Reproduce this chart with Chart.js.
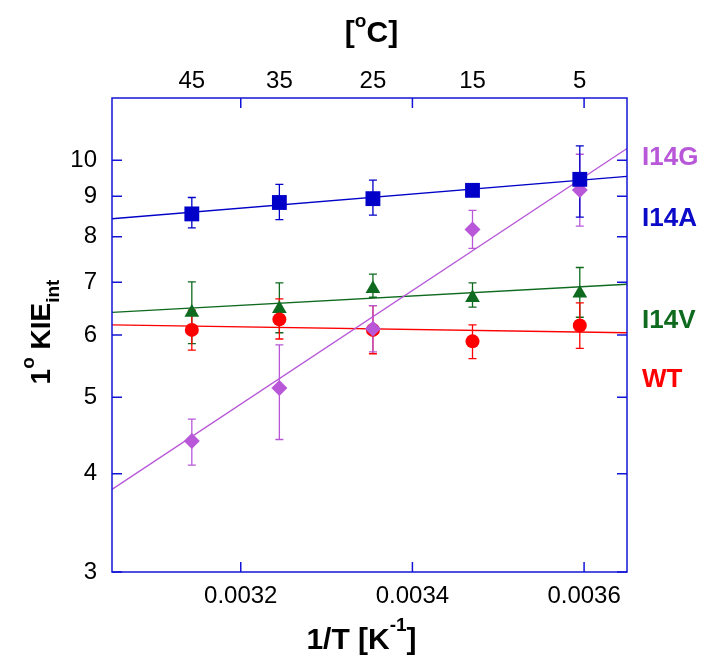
<!DOCTYPE html>
<html><head><meta charset="utf-8">
<script src="https://cdn.jsdelivr.net/npm/chart.js@4.4.0/dist/chart.umd.min.js"></script>
<style>html,body{margin:0;padding:0;background:#fff}#wrap{width:714px;height:666px}</style>
</head><body><div id="wrap"><canvas id="c" width="714" height="666"></canvas></div>
<script>
// ---- data ----
const invT = [0.003143, 0.003245, 0.003354, 0.003470, 0.003595];
const tempLabels = ['45', '35', '25', '15', '5'];
const xTicks = [0.0032, 0.0034, 0.0036];
const yTicks = [3, 4, 5, 6, 7, 8, 9, 10];
const fitX = [0.00305, 0.00365];

const i14aKIE = [8.55, 8.84, 8.94, 9.16, 9.46];
const i14aHi  = [8.97, 9.32, 9.44, 9.30, 10.43];
const i14aLo  = [8.21, 8.41, 8.52, 9.03, 8.47];
const i14aFit = [8.43, 9.54];

const i14gKIE = [4.40, 5.14, 6.11, 8.17, 9.17];
const i14gHi  = [4.69, 5.83, 6.54, 8.64, 10.18];
const i14gLo  = [4.10, 4.42, 5.71, 7.73, 8.25];
const i14gFit = [3.82, 10.35];

const wtKIE = [6.09, 6.28, 6.09, 5.89, 6.17];
const wtHi  = [6.45, 6.67, 6.54, 6.18, 6.59];
const wtLo  = [5.74, 5.93, 5.68, 5.60, 5.77];
const wtFit = [6.18, 6.04];

const i14vKIE = [6.41, 6.48, 6.87, 6.69, 6.78];
const i14vHi  = [7.01, 6.99, 7.17, 6.99, 7.31];
const i14vLo  = [5.85, 6.04, 6.70, 6.51, 6.32];
const i14vFit = [6.41, 6.96];

// ---- styles ----
const C_BLUE = '#0000C8', C_PURPLE = '#B858D8', C_RED = '#FF0000', C_GREEN = '#0E6A1E';
const AXIS = '#1414D8';
const FONT = '"Liberation Sans", Arial, sans-serif';

const pts = (ys) => invT.map((x, i) => ({x, y: ys[i]}));
const fit = (ys) => fitX.map((x, i) => ({x, y: ys[i]}));

const series = [
  {vals: i14aKIE, hi: i14aHi, lo: i14aLo, color: C_BLUE},
  {vals: i14gKIE, hi: i14gHi, lo: i14gLo, color: C_PURPLE},
  {vals: wtKIE, hi: wtHi, lo: wtLo, color: C_RED},
  {vals: i14vKIE, hi: i14vHi, lo: i14vLo, color: C_GREEN},
];

const errorBars = {
  id: 'errorBars',
  beforeDatasetsDraw(chart) {
    const {ctx, chartArea: a} = chart;
    const xs = chart.scales.x, ys = chart.scales.y;
    ctx.save();
    ctx.beginPath(); ctx.rect(a.left, a.top, a.right - a.left, a.bottom - a.top); ctx.clip();
    ctx.lineWidth = 1.3;
    series.slice().reverse().forEach(s => {
      ctx.strokeStyle = s.color;
      invT.forEach((xv, i) => {
        const x = xs.getPixelForValue(xv);
        const yh = ys.getPixelForValue(s.hi[i]);
        const yl = ys.getPixelForValue(s.lo[i]);
        ctx.beginPath();
        ctx.moveTo(x, yh); ctx.lineTo(x, yl);
        ctx.moveTo(x - 4, yh); ctx.lineTo(x + 4, yh);
        ctx.moveTo(x - 4, yl); ctx.lineTo(x + 4, yl);
        ctx.stroke();
      });
    });
    ctx.restore();
  }
};

function drawRich(ctx, parts, x, y, align) {
  let total = 0;
  parts.forEach(p => { ctx.font = 'bold ' + p[1] + 'px ' + FONT; total += ctx.measureText(p[0]).width; });
  let cx = align === 'center' ? x - total / 2 : x;
  parts.forEach(p => {
    ctx.font = 'bold ' + p[1] + 'px ' + FONT;
    ctx.fillText(p[0], cx, y + p[2]);
    cx += ctx.measureText(p[0]).width;
  });
}

const frame = {
  id: 'frame',
  afterDatasetsDraw(chart) {
    const {ctx, chartArea: a} = chart;
    const xs = chart.scales.x, ys = chart.scales.y;
    ctx.save();
    ctx.strokeStyle = AXIS; ctx.lineWidth = 1.5;
    ctx.strokeRect(a.left, a.top, a.right - a.left, a.bottom - a.top);
    ctx.beginPath();
    xTicks.forEach(v => {
      const x = xs.getPixelForValue(v);
      ctx.moveTo(x, a.bottom); ctx.lineTo(x, a.bottom - 10);
      ctx.moveTo(x, a.top); ctx.lineTo(x, a.top + 10);
    });
    yTicks.forEach(v => {
      const y = ys.getPixelForValue(v);
      ctx.moveTo(a.left, y); ctx.lineTo(a.left + 10, y);
      ctx.moveTo(a.right, y); ctx.lineTo(a.right - 10, y);
    });
    ctx.stroke();
    ctx.restore();
  },
  afterDraw(chart) {
    const {ctx, chartArea: a} = chart;
    ctx.save();
    ctx.fillStyle = '#000';
    ctx.textBaseline = 'alphabetic';
    ctx.textAlign = 'left';
    const cx = (a.left + a.right) / 2;
    drawRich(ctx, [['[', 30, 0], ['o', 19, -15], ['C]', 30, 0]], cx + 2, 42, 'center');
    drawRich(ctx, [['1/T [K', 30, 0], ['-1', 19, -18], [']', 30, 0]], cx - 8, 649, 'center');
    ctx.save();
    ctx.translate(50, (a.top + a.bottom) / 2 - 3);
    ctx.rotate(-Math.PI / 2);
    drawRich(ctx, [['1', 28, 0], ['o', 19, -16], [' KIE', 28, 0], ['int', 19, 9]], 0, 0, 'center');
    ctx.restore();
    ctx.textBaseline = 'middle';
    ctx.font = 'bold 26px ' + FONT;
    [['I14G', C_PURPLE, 158], ['I14A', '#0A0AC8', 219], ['I14V', C_GREEN, 321], ['WT', C_RED, 380]].forEach(l => {
      ctx.fillStyle = l[1];
      ctx.fillText(l[0], 642, l[2]);
    });
    ctx.restore();
  }
};

const tickFont = {family: FONT, size: 24};

new Chart(document.getElementById('c'), {
  type: 'scatter',
  data: {
    datasets: [
      {data: pts(i14aKIE), pointStyle: 'rect', pointRadius: 10.5, backgroundColor: C_BLUE, borderColor: C_BLUE, borderWidth: 0, showLine: false},
      {data: pts(i14gKIE), pointStyle: 'rectRot', pointRadius: 8, backgroundColor: C_PURPLE, borderColor: C_PURPLE, borderWidth: 0, showLine: false},
      {data: pts(wtKIE), pointStyle: 'circle', pointRadius: 7, backgroundColor: C_RED, borderColor: C_RED, borderWidth: 0, showLine: false},
      {data: pts(i14vKIE), pointStyle: 'triangle', pointRadius: 8.5, backgroundColor: C_GREEN, borderColor: C_GREEN, borderWidth: 0, showLine: false},
      {data: fit(i14aFit), showLine: true, pointRadius: 0, borderColor: C_BLUE, borderWidth: 1.3},
      {data: fit(i14gFit), showLine: true, pointRadius: 0, borderColor: C_PURPLE, borderWidth: 1.3},
      {data: fit(wtFit), showLine: true, pointRadius: 0, borderColor: C_RED, borderWidth: 1.3},
      {data: fit(i14vFit), showLine: true, pointRadius: 0, borderColor: C_GREEN, borderWidth: 1.3},
    ]
  },
  options: {
    responsive: false,
    animation: false,
    devicePixelRatio: 1,
    layout: {padding: 0},
    plugins: {legend: {display: false}, tooltip: {enabled: false}},
    scales: {
      x: {
        type: 'linear', position: 'bottom', min: fitX[0], max: fitX[1],
        afterBuildTicks: s => { s.ticks = xTicks.map(v => ({value: v})); },
        ticks: {callback: v => v.toFixed(4), font: tickFont, color: '#000', padding: 10, maxRotation: 0, autoSkip: false},
        grid: {display: false, drawTicks: false}, border: {display: false},
        afterFit: s => { s.height = 94; }
      },
      x2: {
        type: 'linear', position: 'top', min: fitX[0], max: fitX[1],
        afterBuildTicks: s => { s.ticks = invT.map(v => ({value: v})); },
        ticks: {callback: (v, i) => tempLabels[i], font: tickFont, color: '#000', padding: 2, maxRotation: 0, autoSkip: false},
        grid: {display: false, drawTicks: false}, border: {display: false},
        afterFit: s => { s.height = 98; }
      },
      y: {
        type: 'logarithmic', position: 'left', min: 3, max: 12,
        afterBuildTicks: s => { s.ticks = yTicks.map(v => ({value: v})); },
        ticks: {callback: v => String(v), font: tickFont, color: '#000', padding: 15, autoSkip: false},
        grid: {display: false, drawTicks: false}, border: {display: false},
        afterFit: s => { s.width = 112; }
      },
      y2: {
        type: 'logarithmic', position: 'right', min: 3, max: 12,
        ticks: {display: false},
        grid: {display: false, drawTicks: false}, border: {display: false},
        afterFit: s => { s.width = 87; }
      }
    }
  },
  plugins: [errorBars, frame]
});
</script>
</body></html>
